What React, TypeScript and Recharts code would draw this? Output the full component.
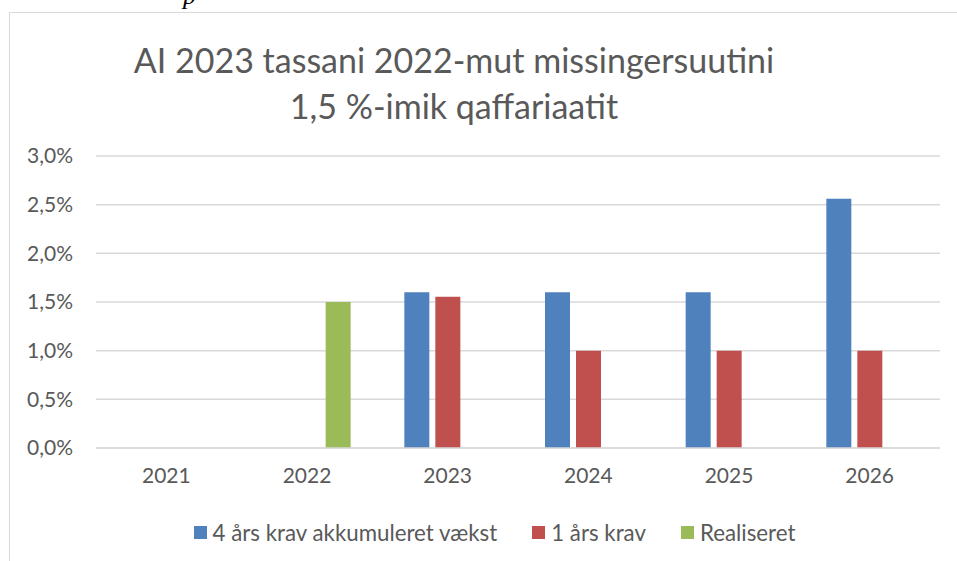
import React from "react";
import { BarChart, Bar, XAxis, YAxis, CartesianGrid, Legend } from "recharts";

const years = ["2021", "2022", "2023", "2024", "2025", "2026"];
const accumulated = [null, null, 1.6, 1.6, 1.6, 2.56];
const oneYear = [null, null, 1.555, 1.0, 1.0, 1.0];
const realised = [null, 1.5, null, null, null, null];
const yTicks = [0, 0.5, 1, 1.5, 2, 2.5, 3];

const seriesKeys = ["accumulated", "oneYear", "realised"];
const seriesNames = {
  accumulated: "4 års krav akkumuleret vækst",
  oneYear: "1 års krav",
  realised: "Realiseret",
};

const data = years.map((year, i) => ({
  year,
  accumulated: accumulated[i],
  oneYear: oneYear[i],
  realised: realised[i],
}));

const FONT = "Lato, 'Noto Sans', sans-serif";
const TEXT = "#595959";
const GRID = "#d9d9d9";

const formatPct = (v: number) => v.toFixed(1).replace(".", ",") + "%";

const LegendContent = (props: any) => {
  // keep series order instead of alphabetical
  const items = [...(props.payload || [])].sort(
    (a: any, b: any) => seriesKeys.indexOf(a.dataKey) - seriesKeys.indexOf(b.dataKey)
  );
  return (
    <div style={{ display: "flex", justifyContent: "center", height: 24, alignItems: "center" }}>
      {items.map((entry: any, i: number) => (
        <div
          key={i}
          style={{
            display: "flex",
            alignItems: "center",
            marginRight: i < items.length - 1 ? 35 : 0,
          }}
        >
          <span style={{ width: 13, height: 13, background: entry.color, marginRight: 6 }} />
          <span style={{ fontFamily: FONT, fontSize: 22.3, color: TEXT }}>{entry.value}</span>
        </div>
      ))}
    </div>
  );
};

export default function App() {
  return (
    <div
      style={{
        position: "fixed",
        left: 0,
        top: 0,
        width: 957,
        height: 561,
        overflow: "hidden",
        background: "#fff",
      }}
    >
      <div
        style={{
          position: "absolute",
          left: 183,
          top: -19,
          fontFamily: "'Liberation Serif', serif",
          fontStyle: "italic",
          fontSize: 26,
          color: "#000",
        }}
      >
        p
      </div>
      <div
        style={{
          position: "absolute",
          left: 9,
          top: 12,
          width: 1000,
          height: 600,
          borderLeft: `1.5px solid ${GRID}`,
          borderTop: `1.5px solid ${GRID}`,
        }}
      />
      <div
        style={{
          position: "absolute",
          left: 0,
          width: 908,
          top: 37,
          textAlign: "center",
          fontFamily: FONT,
          fontSize: 34,
          lineHeight: "46px",
          color: TEXT,
        }}
      >
        AI 2023 tassani 2022-mut missingersuutini
        <br />
        1,5 %-imik qaffariaatit
      </div>
      <div style={{ position: "absolute", left: 0, top: 0 }}>
        <BarChart
          width={957}
          height={561}
          data={data}
          margin={{ top: 156, right: 17, left: 8, bottom: 49 }}
          barSize={25}
          barGap={6}
        >
          <CartesianGrid vertical={false} stroke={GRID} strokeWidth={1.5} />
          <XAxis
            dataKey="year"
            height={40}
            axisLine={{ stroke: GRID, strokeWidth: 1.5 }}
            tickLine={false}
            tickMargin={14}
            tick={{ fill: TEXT, fontSize: 21, fontFamily: FONT }}
          />
          <YAxis
            width={88}
            domain={[0, 3]}
            ticks={yTicks}
            axisLine={false}
            tickLine={false}
            tickMargin={17}
            tickFormatter={formatPct}
            tick={{ fill: TEXT, fontSize: 21, fontFamily: FONT }}
          />
          <Legend
            verticalAlign="bottom"
            content={<LegendContent />}
            wrapperStyle={{ top: 520, bottom: "auto", left: 16, width: 957 }}
          />
          <Bar
            dataKey="accumulated"
            name={seriesNames.accumulated}
            fill="#4f81bd"
            isAnimationActive={false}
          />
          <Bar dataKey="oneYear" name={seriesNames.oneYear} fill="#c0504d" isAnimationActive={false} />
          <Bar dataKey="realised" name={seriesNames.realised} fill="#9bbb59" isAnimationActive={false} />
        </BarChart>
      </div>
    </div>
  );
}
